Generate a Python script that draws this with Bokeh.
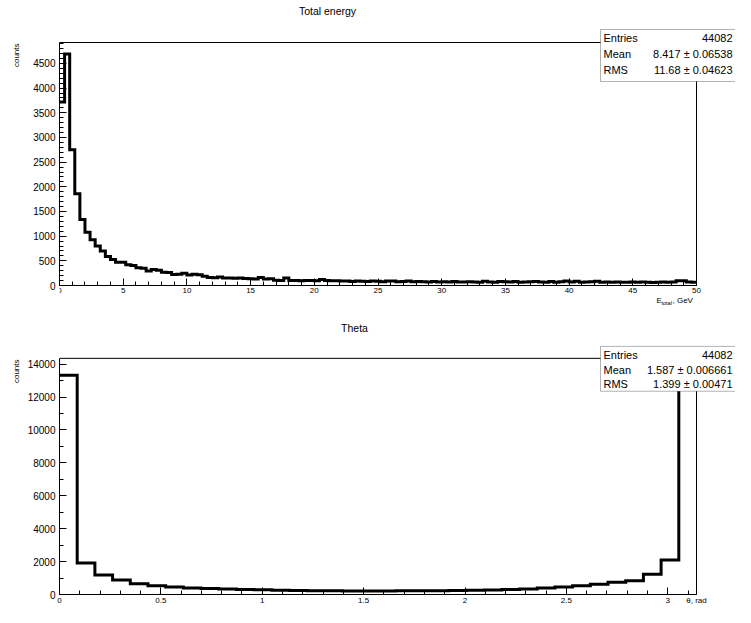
import numpy as np
from bokeh.plotting import figure
from bokeh.models import Range1d, SingleIntervalTicker, FixedTicker, BoxAnnotation, Label
from bokeh.layouts import column, row
from bokeh.embed import file_html
from bokeh.resources import INLINE

# ---------------- data ----------------
energy_range = (0.0, 50.0)
energy_counts = [
    3720, 4690, 2750, 1860, 1340, 1080, 925, 800, 700, 590, 525, 470,
    470, 420, 405, 360, 350, 295, 325, 310, 270, 265, 225, 230, 250,
    215, 230, 220, 185, 160, 155, 170, 150, 150, 145, 150, 140, 135,
    130, 160, 130, 135, 105, 100, 150, 100, 100, 95, 100, 100,
    95, 120, 100, 95, 95, 90, 90, 80, 90, 85, 80, 90, 85,
    75, 90, 90, 75, 80, 90, 75, 80, 75, 70, 80, 70, 75,
    70, 80, 70, 70, 75, 70, 65, 85, 70, 65, 80, 75,
    70, 80, 65, 70, 75, 80, 70, 65, 80, 65, 75, 90,
    70, 85, 65, 70, 75, 85, 65, 70, 65, 70, 65, 65, 70,
    65, 70, 65, 60, 65, 70, 65, 70, 95, 95, 70, 65,
]
energy_stat_names = ["Entries", "Mean", "RMS"]
energy_stat_values = ["44082", "8.417 \u00b1 0.06538", "11.68 \u00b1 0.04623"]

theta_range = (0.0, np.pi)
theta_counts = [
    13330, 1920, 1180, 880, 650, 530, 450, 400, 360, 330, 300, 285,
    260, 245, 235, 225, 220, 215, 220, 225, 230, 235, 245, 255,
    280, 310, 330, 400, 450, 530, 625, 740, 840, 1230, 2090, 13670,
]
theta_stat_names = ["Entries", "Mean", "RMS"]
theta_stat_values = ["44082", "1.587 \u00b1 0.006661", "1.399 \u00b1 0.00471"]
theta_tick_values = [0, 0.5, 1, 1.5, 2, 2.5, 3]
theta_tick_labels = ["0", "0.5", "1", "1.5", "2", "2.5", "3"]

FONT = "Liberation Sans"
STRIP = 20            # left strip holding the rotated "counts" titles
W = 735 - STRIP       # width of the two histogram figures
FL, FR = 39, 676      # histogram box left/right inside a figure (px)
H1, H2 = 318, 289


def style_axis(ax, fs):
    ax.axis_line_color = "black"
    ax.major_tick_line_color = "black"
    ax.minor_tick_line_color = "black"
    ax.major_tick_in = 7
    ax.major_tick_out = 0
    ax.minor_tick_in = 4
    ax.minor_tick_out = 0
    ax.major_label_text_font = FONT
    ax.major_label_text_font_size = fs
    ax.major_label_text_color = "black"


def make_hist(counts, xr, H, BT, BB, frame_bottom, xticker, yticker, title, title_xy,
              box, rows, names, values, fixed_x_axis):
    """BT/BB: pixel rows of the histogram box; the plot frame covers the
    whole figure above frame_bottom so that titles and the stats box can
    be drawn above / right of the histogram box."""
    x0, x1 = xr
    n = len(counts)
    edges = np.linspace(x0, x1, n + 1)
    ymax = max(counts) * 1.05
    kx = (x1 - x0) / (FR - FL)
    ky = ymax / (BB - BT)

    def dx(cx):
        return x0 + (cx - FL) * kx

    def dy(cy):
        return (BB - cy) * ky

    p = figure(width=W, height=H, output_backend="svg", toolbar_location=None,
               x_range=Range1d(dx(FL), dx(W)), y_range=Range1d(dy(frame_bottom), dy(0)),
               min_border_left=FL, min_border_right=0,
               min_border_top=0, min_border_bottom=H - frame_bottom)
    p.background_fill_color = "white"
    p.border_fill_color = "white"
    p.outline_line_color = None
    p.xgrid.visible = False
    p.ygrid.visible = False

    # histogram box (frame of the histogram)
    p.quad(left=[x0], right=[x1], bottom=[0], top=[ymax], fill_color=None,
           line_color="black", line_width=1)
    ys = list(counts) + [counts[-1]]
    p.step(x=edges, y=ys, mode="after", line_color="black", line_width=3,
           line_join="miter")

    xa, ya = p.xaxis[0], p.yaxis[0]
    style_axis(xa, "8px")
    style_axis(ya, "10px")
    xa.ticker = xticker
    ya.ticker = yticker
    xa.bounds = (x0, x1)
    ya.bounds = (0, ymax)
    xa.major_label_standoff = 2
    ya.major_label_standoff = 4
    if fixed_x_axis:
        xa.fixed_location = 0

    # title
    p.add_layout(Label(x=dx(title_xy[0]), y=dy(title_xy[1]), text=title,
                       text_align="center", text_baseline="middle",
                       text_font=FONT, text_font_size="10.5px", text_color="black"))
    # stats box
    bl, br, bt, bb = box
    p.add_layout(BoxAnnotation(left=dx(bl), right=dx(br), top=dy(bt), bottom=dy(bb),
                               fill_color="white", fill_alpha=1.0,
                               line_color="black", line_width=1, level="overlay"))
    for cy, nm, val in zip(rows, names, values):
        p.add_layout(Label(x=dx(bl + 3), y=dy(cy), text=nm, text_align="left",
                           text_baseline="middle", text_font=FONT,
                           text_font_size="11px", text_color="black", level="overlay"))
        p.add_layout(Label(x=dx(W - 3), y=dy(cy), text=val, text_align="right",
                           text_baseline="middle", text_font=FONT,
                           text_font_size="11px", text_color="black", level="overlay"))
    return p, dx, dy


p1, dx1, dy1 = make_hist(
    energy_counts, energy_range, H1, 42, 285, 305,
    SingleIntervalTicker(interval=5, num_minor_ticks=5),
    SingleIntervalTicker(interval=500, num_minor_ticks=5),
    "Total energy", (307, 10),
    (580, 740, 29, 81), [37, 53, 69], energy_stat_names, energy_stat_values, True,
)
# x axis title  E_total, GeV  (below the axis, right aligned)
for cx, cy, txt, fs in [(636, 300, "E", "8px"), (641, 302, "total", "5.5px"),
                        (652, 300, ", GeV", "8px")]:
    p1.add_layout(Label(x=dx1(cx), y=dy1(cy), text=txt, text_align="left",
                        text_baseline="middle", text_font=FONT, text_font_size=fs,
                        text_color="black"))

theta_ticks = theta_tick_values + [theta_range[1]]
p2, dx2, dy2 = make_hist(
    theta_counts, theta_range, H2, 40, 277, 277,
    FixedTicker(ticks=theta_ticks,
                minor_ticks=[round(0.1 * i, 1) for i in range(0, 32)]),
    SingleIntervalTicker(interval=2000, num_minor_ticks=2),
    "Theta", (334, 10),
    (580, 740, 28, 73), [37, 52, 66], theta_stat_names, theta_stat_values, False,
)
overrides = {v: s for v, s in zip(theta_tick_values, theta_tick_labels)}
overrides[theta_range[1]] = "\u03b8, rad"
p2.xaxis[0].major_label_overrides = overrides
p2.xaxis[0].major_label_standoff = 1

# left strip with the rotated y-axis titles
strip = figure(width=STRIP, height=H1 + H2, output_backend="svg", toolbar_location=None,
               x_range=Range1d(0, STRIP), y_range=Range1d(0, H1 + H2),
               min_border=0)
strip.axis.visible = False
strip.grid.visible = False
strip.outline_line_color = None
strip.background_fill_color = "white"
strip.border_fill_color = "white"
for top in (43, H1 + 41):
    strip.add_layout(Label(x=15.5, y=H1 + H2 - top, text="counts", angle=np.pi / 2,
                           text_align="right", text_baseline="middle",
                           text_font=FONT, text_font_size="8px", text_color="black"))

layout = row(strip, column(p1, p2))
open("out.html", "w").write(file_html(layout, INLINE))
